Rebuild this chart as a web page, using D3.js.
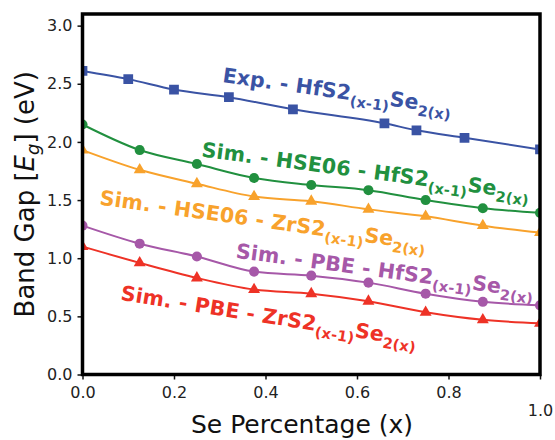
<!DOCTYPE html>
<html><head><meta charset="utf-8">
<script src="https://cdn.jsdelivr.net/npm/d3@7"></script>
<style>body{margin:0;background:#fff} svg{display:block}</style>
</head><body><svg id="c" width="555" height="440"></svg>
<script>
// ---- data ----
const xSim = [0, 0.125, 0.25, 0.375, 0.5, 0.625, 0.75, 0.875, 1.0];
const xExp = [0, 0.1, 0.2, 0.32, 0.46, 0.66, 0.73, 0.835, 1.0];
const expHfS2 = [2.61, 2.54, 2.45, 2.385, 2.28, 2.16, 2.10, 2.035, 1.935];
const hseHfS2 = [2.15, 1.93, 1.81, 1.69, 1.63, 1.585, 1.50, 1.43, 1.39];
const hseZrS2 = [1.93, 1.76, 1.64, 1.53, 1.49, 1.42, 1.36, 1.28, 1.22];
const pbeHfS2 = [1.28, 1.125, 1.015, 0.885, 0.85, 0.79, 0.695, 0.625, 0.595];
const pbeZrS2 = [1.10, 0.96, 0.83, 0.73, 0.695, 0.63, 0.535, 0.47, 0.44];
const yTicks = [0, 0.5, 1.0, 1.5, 2.0, 2.5, 3.0];
const xTicks = [0, 0.2, 0.4, 0.6, 0.8, 1.0];
const seriesNames = ["Exp. - HfS2", "Sim. - HSE06 - HfS2", "Sim. - HSE06 - ZrS2", "Sim. - PBE - HfS2", "Sim. - PBE - ZrS2"];

// ---- layout / style ----
const W = 555, H = 440;
const M = {left: 82.5, right: 15, top: 14, bottom: 65.5};
const svg = d3.select("#c");
const x = d3.scaleLinear().domain([0, 1]).range([M.left, W - M.right]);
const y = d3.scaleLinear().domain([0, 3.1]).range([H - M.bottom, M.top]);

const series = [
  {name: seriesNames[0], xs: xExp, ys: expHfS2, color: "#3a53a4", sym: d3.symbolSquare, size: 95,
   lab: {x: 0.305, y: 2.515, a: 8}},
  {name: seriesNames[1], xs: xSim, ys: hseHfS2, color: "#21903f", sym: d3.symbolCircle, size: 80,
   lab: {x: 0.259, y: 1.875, a: 7.5}},
  {name: seriesNames[2], xs: xSim, ys: hseZrS2, color: "#f8a22c", sym: d3.symbolTriangle, size: 62,
   lab: {x: 0.036, y: 1.462, a: 8}},
  {name: seriesNames[3], xs: xSim, ys: pbeHfS2, color: "#a658a8", sym: d3.symbolCircle, size: 80,
   lab: {x: 0.334, y: 1.005, a: 7.7}},
  {name: seriesNames[4], xs: xSim, ys: pbeZrS2, color: "#ee3226", sym: d3.symbolTriangle, size: 62,
   lab: {x: 0.082, y: 0.642, a: 9}}
];

svg.append("defs").append("clipPath").attr("id", "clip")
  .append("rect").attr("x", x(0)).attr("y", y(3.1))
  .attr("width", x(1) - x(0)).attr("height", y(0) - y(3.1));

const plot = svg.append("g").attr("clip-path", "url(#clip)");
const line = d3.line().curve(d3.curveMonotoneX);

series.forEach(s => {
  const pts = s.xs.map((v, i) => [x(v), y(s.ys[i])]);
  plot.append("path").attr("d", line(pts)).attr("fill", "none")
    .attr("stroke", s.color).attr("stroke-width", 2);
  plot.selectAll(null).data(pts).enter().append("path")
    .attr("d", d3.symbol().type(s.sym).size(s.size))
    .attr("transform", d => `translate(${d[0]},${d[1]})`)
    .attr("fill", s.color);
});

// labels
series.forEach(s => {
  const t = svg.append("text")
    .attr("transform", `translate(${x(s.lab.x)},${y(s.lab.y)}) rotate(${s.lab.a})`)
    .attr("fill", s.color).attr("font-family", "'DejaVu Sans', Verdana, sans-serif")
    .attr("font-weight", "bold").attr("font-size", 20.5).attr("letter-spacing", 0.15);
  t.append("tspan").text(s.name);
  t.append("tspan").attr("font-size", 14.5).attr("dy", 6).text("(x-1)");
  t.append("tspan").attr("dy", -6).text("Se");
  t.append("tspan").attr("font-size", 14.5).attr("dy", 6).text("2(x)");
});

// axes
const font = "'DejaVu Sans', Verdana, sans-serif";
const yAxis = svg.append("g").attr("transform", `translate(${x(0)},0)`)
  .call(d3.axisLeft(y).tickValues(yTicks).tickFormat(d3.format(".1f")).tickSize(5).tickPadding(5).tickSizeOuter(0));
const xAxis = svg.append("g").attr("transform", `translate(0,${y(0)})`)
  .call(d3.axisBottom(x).tickValues(xTicks).tickFormat(d3.format(".1f")).tickSize(5).tickPadding(7).tickSizeOuter(0));
[yAxis, xAxis].forEach(g => {
  g.select(".domain").remove();
  g.selectAll(".tick line").attr("stroke", "#111").attr("stroke-width", 1.5);
  g.selectAll(".tick text").attr("font-family", font).attr("font-size", 16).attr("fill", "#222");
});
xAxis.selectAll(".tick text").filter(d => d === 1.0)
  .attr("dx", 0).attr("dy", "1.85em");

// frame
svg.append("rect").attr("x", x(0)).attr("y", y(3.1))
  .attr("width", x(1) - x(0)).attr("height", y(0) - y(3.1))
  .attr("fill", "none").attr("stroke", "#000").attr("stroke-width", 3.5);

// titles
svg.append("text").attr("x", 302).attr("y", 433).attr("text-anchor", "middle")
  .attr("font-family", font).attr("font-size", 25).attr("fill", "#111")
  .text("Se Percentage (x)");
const yt = svg.append("text")
  .attr("transform", `translate(34,${(y(0) + y(3.1)) / 2}) rotate(-90)`)
  .attr("text-anchor", "middle").attr("font-family", font).attr("font-size", 26).attr("fill", "#111");
yt.append("tspan").text("Band Gap [");
yt.append("tspan").attr("font-style", "italic").text("E");
yt.append("tspan").attr("font-style", "italic").attr("font-size", 18).attr("dy", 5).text("g");
yt.append("tspan").attr("dy", -5).text("] (eV)");
</script></body></html>
